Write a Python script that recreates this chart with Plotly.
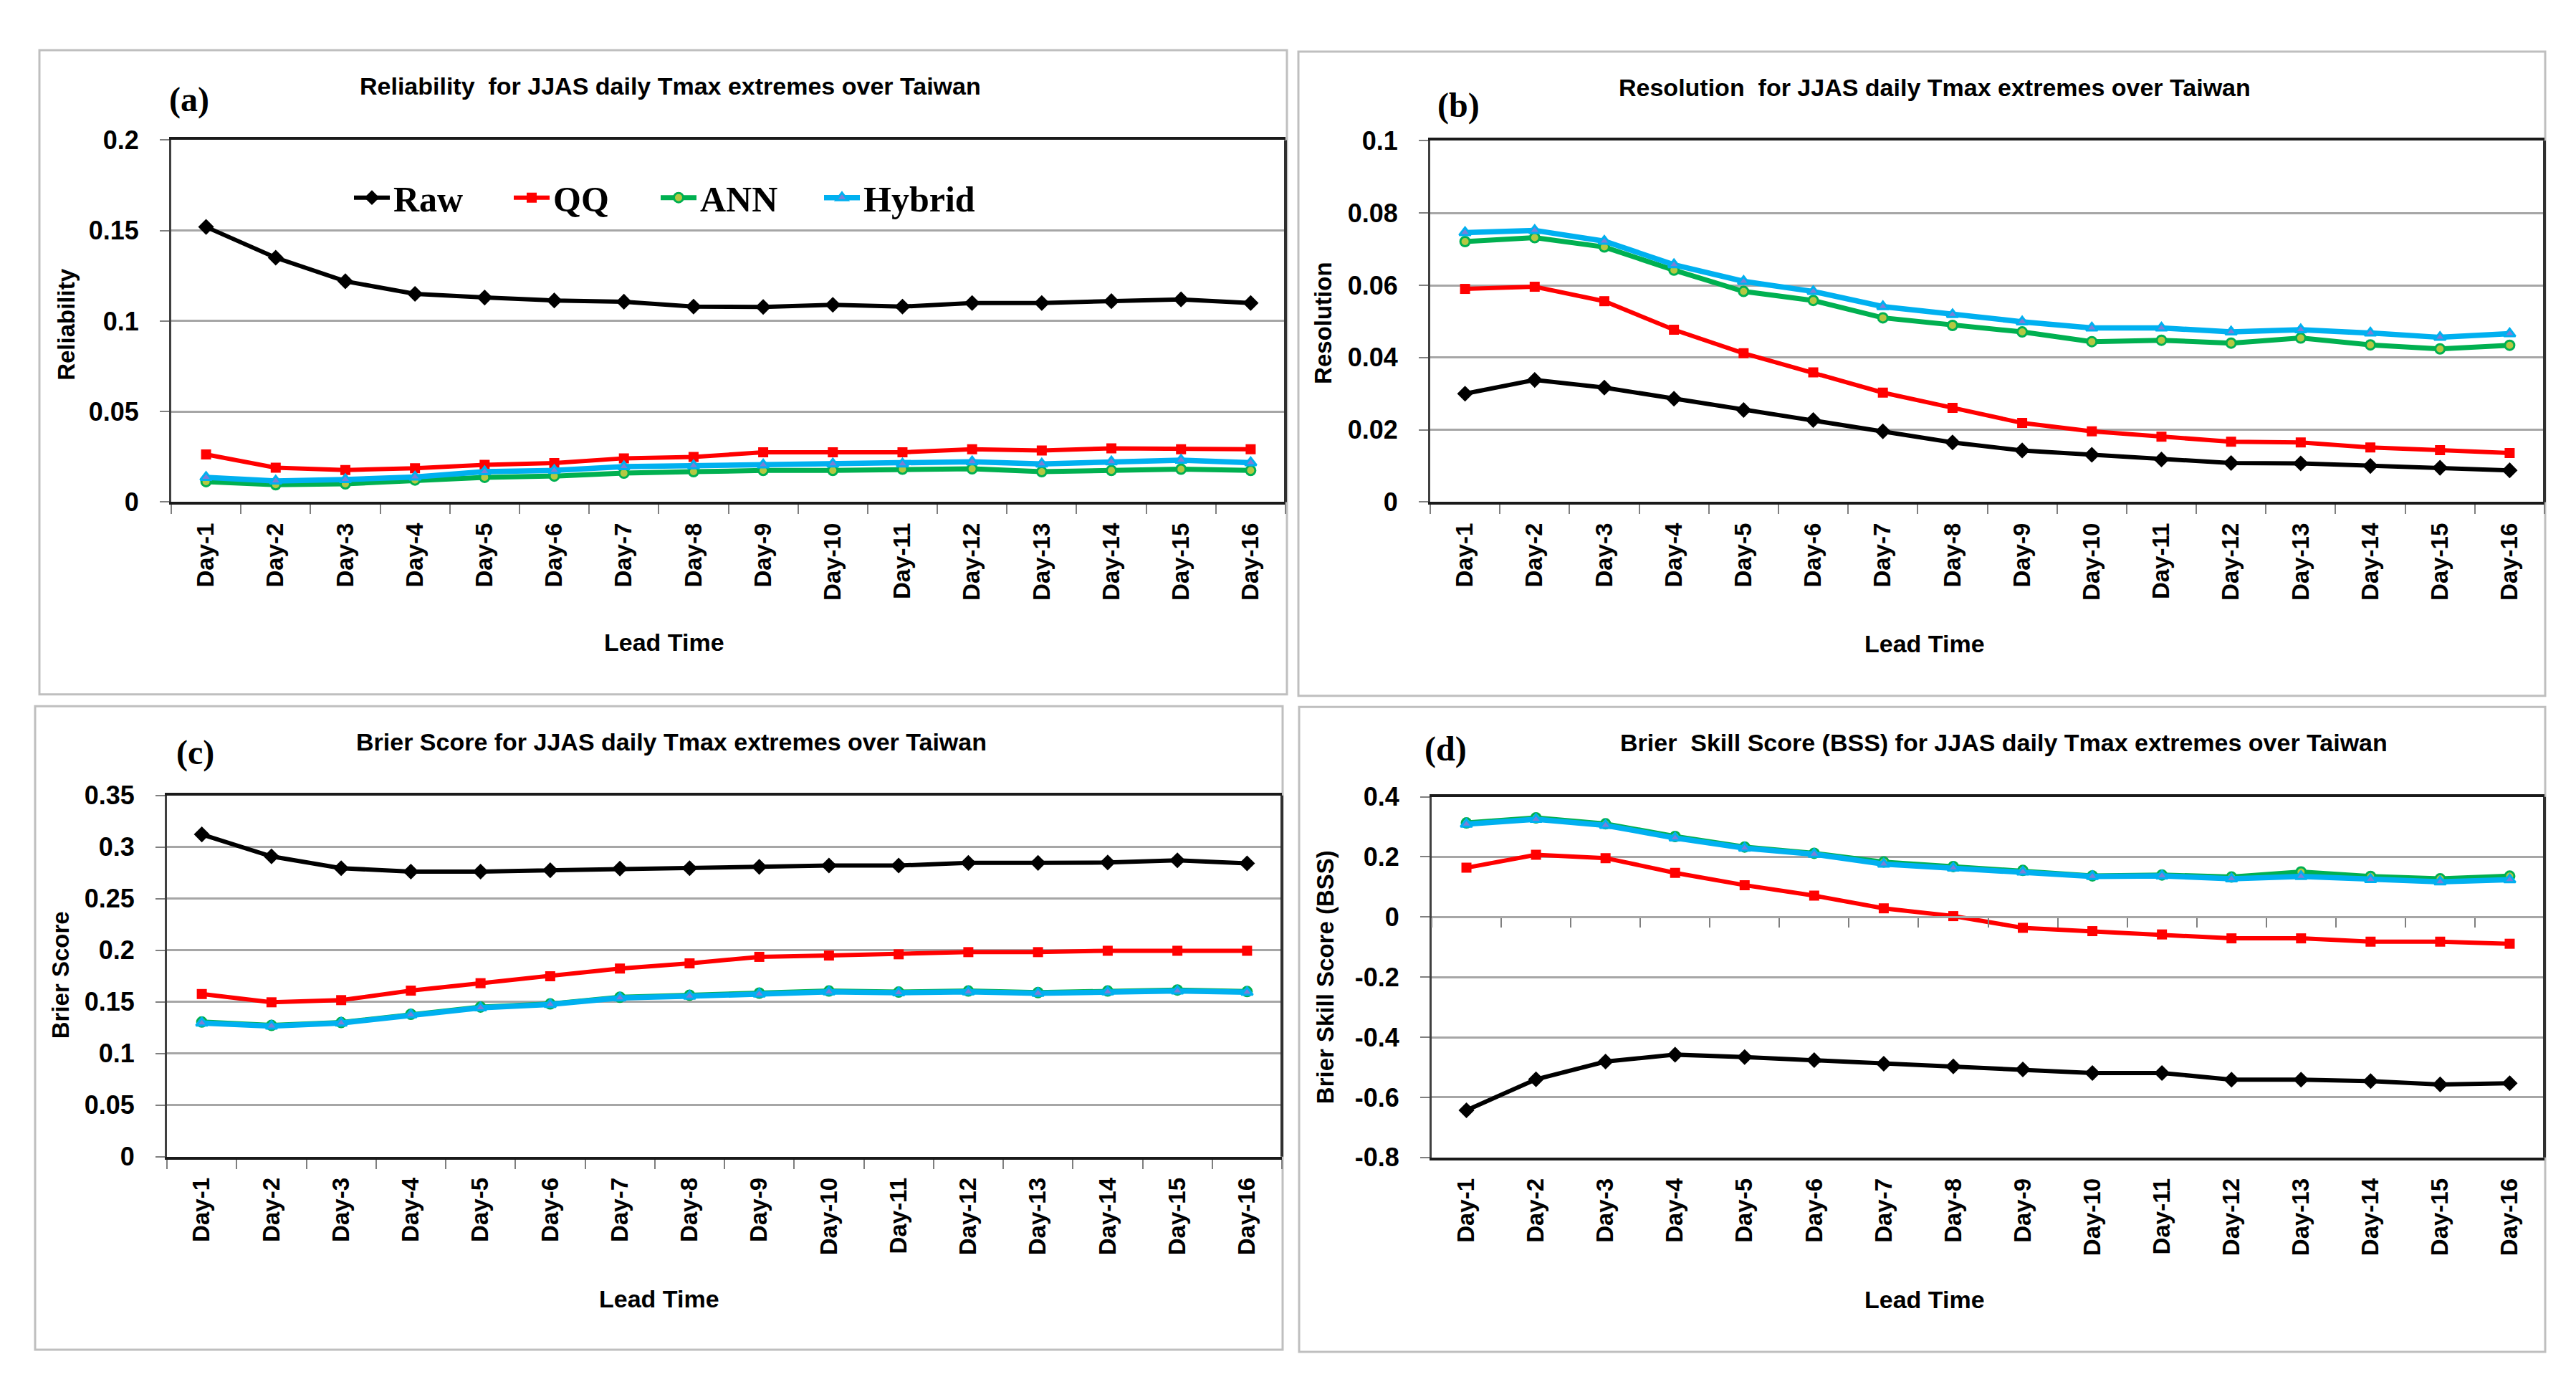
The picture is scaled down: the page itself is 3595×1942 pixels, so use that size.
import plotly.graph_objects as go

days = ["Day-%d" % i for i in range(1, 17)]
series_names = ["Raw", "QQ", "ANN", "Hybrid"]

# (a) Reliability
rel_raw = [0.152, 0.135, 0.122, 0.115, 0.113, 0.1114, 0.1107, 0.108, 0.1078, 0.109, 0.108, 0.110, 0.110, 0.111, 0.112, 0.110]
rel_qq = [0.0263, 0.019, 0.0177, 0.0187, 0.0206, 0.0216, 0.0242, 0.0249, 0.0275, 0.0275, 0.0275, 0.0292, 0.0285, 0.0297, 0.0292, 0.0292]
rel_ann = [0.0113, 0.0096, 0.0101, 0.0122, 0.0137, 0.0144, 0.016, 0.0168, 0.0175, 0.0175, 0.0182, 0.0184, 0.0168, 0.0175, 0.0182, 0.0175]
rel_hyb = [0.0137, 0.0117, 0.0125, 0.0139, 0.0168, 0.0175, 0.0196, 0.0201, 0.0206, 0.0211, 0.0211, 0.0223, 0.0211, 0.0223, 0.0232, 0.0218]

# (b) Resolution
res_raw = [0.0300, 0.0338, 0.0317, 0.0286, 0.0255, 0.0227, 0.0196, 0.0165, 0.0143, 0.0131, 0.0118, 0.0108, 0.0107, 0.0100, 0.0095, 0.0088]
res_qq = [0.0590, 0.0596, 0.0556, 0.0477, 0.0412, 0.0359, 0.0303, 0.0261, 0.0219, 0.0196, 0.0181, 0.0167, 0.0165, 0.0151, 0.0144, 0.0136]
res_ann = [0.0721, 0.0732, 0.0706, 0.0642, 0.0583, 0.0558, 0.0510, 0.0489, 0.0471, 0.0444, 0.0448, 0.0440, 0.0454, 0.0435, 0.0424, 0.0434]
res_hyb = [0.0746, 0.0752, 0.0722, 0.0657, 0.0611, 0.0583, 0.0541, 0.0519, 0.0499, 0.0482, 0.0482, 0.0471, 0.0477, 0.0468, 0.0456, 0.0466]

# (c) Brier Score
bs_raw = [0.3122, 0.2909, 0.2795, 0.2762, 0.2762, 0.2775, 0.2791, 0.2795, 0.2808, 0.2821, 0.2821, 0.2846, 0.2846, 0.2850, 0.2871, 0.2842]
bs_qq = [0.1576, 0.1496, 0.1517, 0.1609, 0.1681, 0.1748, 0.1823, 0.1873, 0.1936, 0.1949, 0.1961, 0.1982, 0.1982, 0.1995, 0.1995, 0.1995]
bs_ann = [0.1305, 0.1272, 0.1300, 0.1380, 0.1450, 0.1480, 0.1545, 0.1565, 0.1585, 0.1605, 0.1595, 0.1605, 0.1590, 0.1605, 0.1615, 0.1600]
bs_hyb = [0.1295, 0.1266, 0.1295, 0.1375, 0.1442, 0.1475, 0.1538, 0.1555, 0.1576, 0.1597, 0.1588, 0.1597, 0.1584, 0.1597, 0.1605, 0.1593]

# (d) Brier Skill Score
bss_raw = [-0.643, -0.540, -0.481, -0.458, -0.466, -0.476, -0.488, -0.497, -0.507, -0.519, -0.519, -0.541, -0.541, -0.546, -0.557, -0.553]
bss_qq = [0.164, 0.207, 0.196, 0.147, 0.106, 0.071, 0.029, 0.003, -0.036, -0.047, -0.058, -0.071, -0.071, -0.082, -0.082, -0.089]
bss_ann = [0.313, 0.330, 0.310, 0.268, 0.233, 0.212, 0.183, 0.168, 0.155, 0.137, 0.140, 0.133, 0.150, 0.135, 0.127, 0.136]
bss_hyb = [0.309, 0.325, 0.305, 0.263, 0.229, 0.209, 0.176, 0.163, 0.150, 0.135, 0.137, 0.127, 0.135, 0.125, 0.117, 0.124]

titles = [
    "Reliability\u00a0\u00a0for JJAS daily Tmax extremes over Taiwan",
    "Resolution\u00a0\u00a0for JJAS daily Tmax extremes over Taiwan",
    "Brier Score for JJAS daily Tmax extremes over Taiwan",
    "Brier\u00a0\u00a0Skill Score (BSS) for JJAS daily Tmax extremes over Taiwan",
]
panel_labels = ["(a)", "(b)", "(c)", "(d)"]
ytitles = ["Reliability", "Resolution", "Brier Score", "Brier Skill Score (BSS)"]
xtitle = "Lead Time"

yticks_a = [0, 0.05, 0.1, 0.15, 0.2]
yticks_b = [0, 0.02, 0.04, 0.06, 0.08, 0.1]
yticks_c = [0, 0.05, 0.1, 0.15, 0.2, 0.25, 0.3, 0.35]
yticks_d = [-0.8, -0.6, -0.4, -0.2, 0, 0.2, 0.4]
ytext_a = ["0", "0.05", "0.1", "0.15", "0.2"]
ytext_b = ["0", "0.02", "0.04", "0.06", "0.08", "0.1"]
ytext_c = ["0", "0.05", "0.1", "0.15", "0.2", "0.25", "0.3", "0.35"]
ytext_d = ["-0.8", "-0.6", "-0.4", "-0.2", "0", "0.2", "0.4"]

W, H = 3595, 1942

def px(x):
    return x / W

def py(y):
    return 1 - y / H

# plot areas (pixel coordinates: left, right, top, bottom)
areas = [
    (231, 1786, 171, 687),
    (1988, 3543, 172, 687),
    (225, 1781, 1105, 1620),
    (1990, 3543, 1107, 1621),
]
frames = [
    (47, 1788, 43, 961),
    (1804, 3544, 45, 963),
    (41, 1782, 978, 1895),
    (1805, 3544, 979, 1898),
]
title_pos = [(492, 94), (2249, 96), (487, 1029), (2251, 1030)]
label_pos = [(256, 113), (2027, 122), (264, 1044), (2010, 1039)]
lead_pos = [(919, 887), (2678, 889), (912, 1822), (2678, 1823)]
ytitle_pos = [(85, 434), (1839, 431), (76, 1361), (1841, 1364)]
legend_sym_x = [486, 709, 914, 1142]
legend_y = 253

colors = {"Raw": "#000000", "QQ": "#FF0000", "ANN": "#00B050", "Hybrid": "#00B0F0"}
widths = {"Raw": 6, "QQ": 6, "ANN": 7, "Hybrid": 7.5}
markers = {
    "Raw": dict(symbol="diamond", size=17, color="#000000"),
    "QQ": dict(symbol="square", size=14, color="#FF0000"),
    "ANN": dict(symbol="circle", size=13, color="#B5C842", line=dict(color="#00B050", width=3)),
    "Hybrid": dict(symbol="triangle-up", size=14, color="#7B7FD8", line=dict(color="#00B0F0", width=3)),
}

data = [
    [rel_raw, rel_qq, rel_ann, rel_hyb],
    [res_raw, res_qq, res_ann, res_hyb],
    [bs_raw, bs_qq, bs_ann, bs_hyb],
    [bss_raw, bss_qq, bss_ann, bss_hyb],
]
yranges = [[0, 0.2], [0, 0.1], [0, 0.35], [-0.8, 0.4]]
ytv = [yticks_a, yticks_b, yticks_c, yticks_d]
ytt = [ytext_a, ytext_b, ytext_c, ytext_d]

SANS = "Liberation Sans, Arial"
SERIF = "Liberation Serif, Times New Roman"

fig = go.Figure()
layout = dict(
    width=W, height=H, margin=dict(l=0, r=0, t=0, b=0),
    paper_bgcolor="white", plot_bgcolor="white",
    showlegend=True,
)
legend_keys = ["legend", "legend2", "legend3", "legend4"]
for j, key in enumerate(legend_keys):
    layout[key] = dict(
        orientation="h", x=px(legend_sym_x[j] - 5), y=py(legend_y), xanchor="left", yanchor="middle",
        font=dict(family=SERIF, size=50, color="black", weight="bold"),
        bgcolor="rgba(0,0,0,0)", borderwidth=0, itemwidth=50,
    )

shapes = []
annotations = []

for i in range(4):
    n = "" if i == 0 else str(i + 1)
    x0, x1, y0, y1 = areas[i]
    layout["xaxis" + n] = dict(
        domain=[px(x0), px(x1)], anchor="y" + n, type="category",
        categoryorder="array", categoryarray=days, range=[-0.5, 15.5],
        showline=True, linecolor="#1A1A1A", linewidth=4, mirror=True,
        ticks="outside" if i < 3 else "", tickson="boundaries", ticklen=13, tickcolor="#7F7F7F", tickwidth=2,
        tickangle=-90, showgrid=False, zeroline=False, ticklabelstandoff=12,
        tickfont=dict(family=SANS, size=33, color="black", weight="bold"),
    )
    layout["yaxis" + n] = dict(
        domain=[py(y1), py(y0)], anchor="x" + n, range=yranges[i],
        tickvals=ytv[i], ticktext=ytt[i],
        showline=True, linecolor="#404040", linewidth=3, mirror=False,
        ticks="outside", ticklen=13, tickcolor="#7F7F7F", tickwidth=2,
        showgrid=True, gridcolor="#A6A6A6", gridwidth=2.5, zeroline=False, ticklabelstandoff=22,
        tickfont=dict(family=SANS, size=36, color="black", weight="bold"),
    )
    # right border of plot area
    shapes.append(dict(type="line", xref="x" + n + " domain", yref="y" + n + " domain",
                       x0=1, x1=1, y0=0, y1=1, line=dict(color="#303030", width=4)))
    # panel frame
    fx0, fx1, fy0, fy1 = frames[i]
    shapes.append(dict(type="rect", xref="paper", yref="paper", x0=px(fx0), x1=px(fx1),
                       y0=py(fy1), y1=py(fy0), line=dict(color="#BFBFBF", width=3), layer="below"))
    annotations.append(dict(text=titles[i], x=px(title_pos[i][0]), y=py(title_pos[i][1]),
                            xref="paper", yref="paper", showarrow=False, xanchor="left", yanchor="middle",
                            font=dict(family=SANS, size=34, color="black", weight="bold")))
    annotations.append(dict(text=panel_labels[i], x=px(label_pos[i][0]), y=py(label_pos[i][1]),
                            xref="paper", yref="paper", showarrow=False, xanchor="center", yanchor="middle",
                            font=dict(family=SERIF, size=48, color="black", weight="bold")))
    annotations.append(dict(text=xtitle, x=px(lead_pos[i][0]), y=py(lead_pos[i][1]),
                            xref="paper", yref="paper", showarrow=False, xanchor="center", yanchor="middle",
                            font=dict(family=SANS, size=34, color="black", weight="bold")))
    annotations.append(dict(text=ytitles[i], x=px(ytitle_pos[i][0]), y=py(ytitle_pos[i][1]),
                            xref="paper", yref="paper", showarrow=False, xanchor="center", yanchor="middle",
                            textangle=-90,
                            font=dict(family=SANS, size=33, color="black", weight="bold")))

    for k, name in enumerate(series_names):
        xa = "x" + n
        if i == 3 and name == "Hybrid":
            xa = "x5"
        fig.add_trace(go.Scatter(
            x=days, y=data[i][k], mode="lines+markers", name=name,
            xaxis=xa, yaxis="y" + n, showlegend=(i == 0), legend=legend_keys[k],
            line=dict(color=colors[name], width=widths[name]),
            marker=markers[name],
        ))

# zero-line axis for panel (d) with tick marks between categories
d_lo, d_hi = yranges[3]
dy0, dy1 = layout["yaxis4"]["domain"]
zero_pos = dy0 + (dy1 - dy0) * (0 - d_lo) / (d_hi - d_lo)
layout["xaxis5"] = dict(
    overlaying="x4", matches="x4", anchor="free", position=zero_pos,
    type="category", categoryorder="array", categoryarray=days,
    showline=True, linecolor="#A6A6A6", linewidth=2.5,
    ticks="outside", tickson="boundaries", ticklen=13, tickcolor="#7F7F7F", tickwidth=2,
    showticklabels=False, showgrid=False, zeroline=False,
)

layout["shapes"] = shapes
layout["annotations"] = annotations
fig.update_layout(**layout)
fig.write_html("out.html")
